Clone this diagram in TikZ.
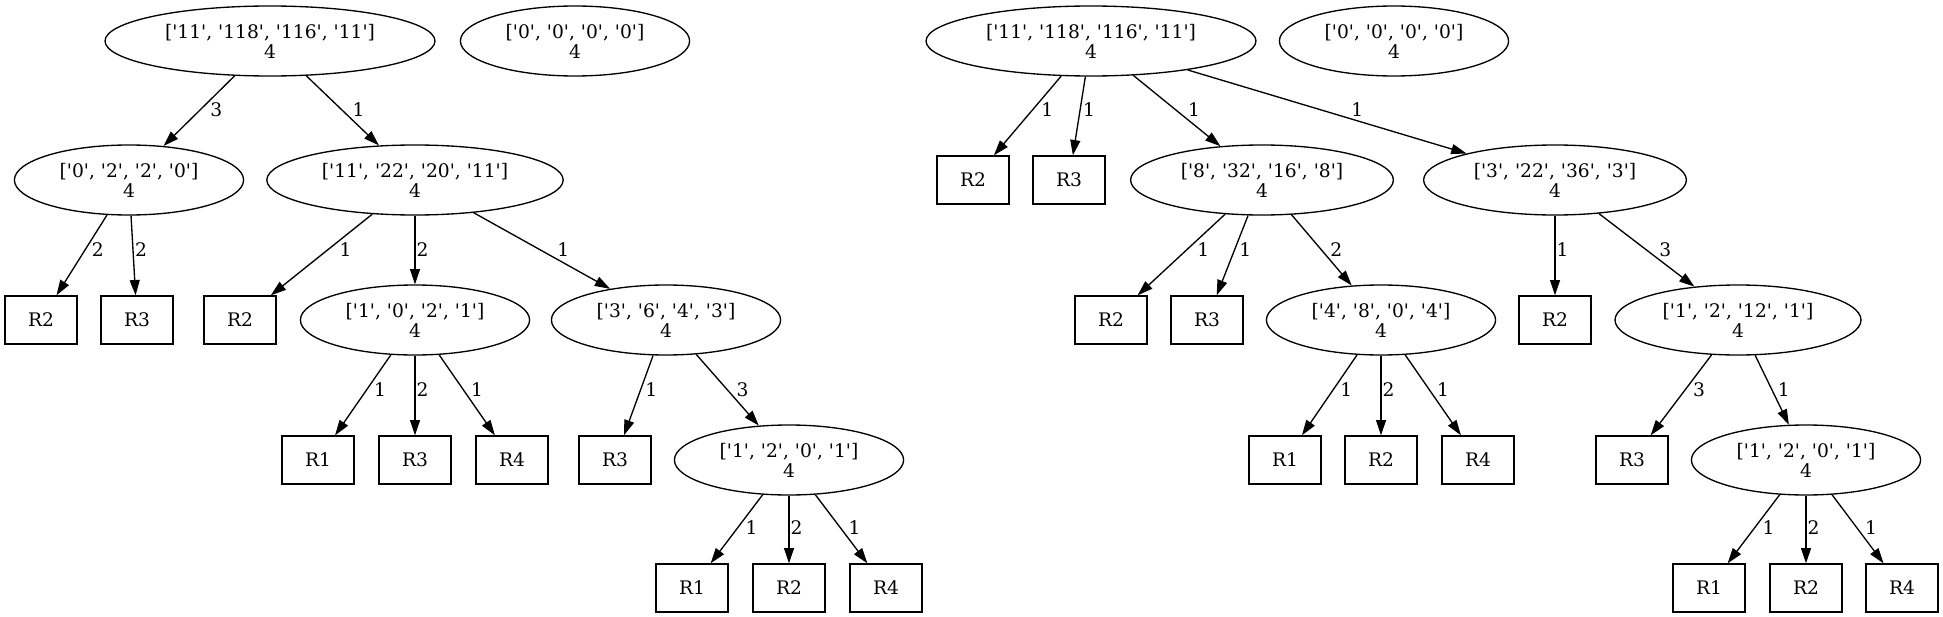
\documentclass[tikz,border=0pt]{standalone}
\usepackage{fontspec}
\setmainfont{DejaVu Serif}[Ligatures=TeXOff]
\usetikzlibrary{shapes.geometric,arrows.meta}
\tikzset{
  treenode/.style={draw, ellipse, line width=1pt, inner xsep=8.75pt, inner ysep=2pt, minimum height=52.5pt, align=center, font=\fontsize{14}{15}\selectfont},
  leafbox/.style={draw, rectangle, line width=1pt, minimum width=54pt, minimum height=36pt, inner sep=0pt, font=\fontsize{14}{15}\selectfont},
  link/.style={line width=1pt, -{Triangle[length=11.5pt,width=7.5pt]}},
  elabel/.style={anchor=west, inner sep=0pt, font=\fontsize{14}{15}\selectfont}
}
\begin{document}
\begin{tikzpicture}[x=0.75pt,y=0.75pt,yscale=-1,xscale=1]
\useasboundingbox (0,0) rectangle (1943,617);

%Shape: Ellipse [left tree]
\node[treenode] (lroot) at (270,41) {['11', '118', '116', '11']\\4};
\node[treenode] (lzero) at (575,41) {['0', '0', '0', '0']\\4};
\node[treenode] (lb) at (129,180) {['0', '2', '2', '0']\\4};
\node[treenode] (lc) at (415,180) {['11', '22', '20', '11']\\4};
\node[treenode] (ld) at (415,320) {['1', '0', '2', '1']\\4};
\node[treenode] (le) at (666,320) {['3', '6', '4', '3']\\4};
\node[treenode] (lf) at (789,460) {['1', '2', '0', '1']\\4};
%Shape: Rectangle [left tree]
\node[leafbox] (lbr2) at (41,320) {R2};
\node[leafbox] (lbr3) at (137,320) {R3};
\node[leafbox] (lcr2) at (240,320) {R2};
\node[leafbox] (ldr1) at (318,460) {R1};
\node[leafbox] (ldr3) at (415,460) {R3};
\node[leafbox] (ldr4) at (512,460) {R4};
\node[leafbox] (ler3) at (615,460) {R3};
\node[leafbox] (lfr1) at (692,588) {R1};
\node[leafbox] (lfr2) at (789,588) {R2};
\node[leafbox] (lfr4) at (886,588) {R4};

%Shape: Ellipse [right tree]
\node[treenode] (rroot) at (1091,41) {['11', '118', '116', '11']\\4};
\node[treenode] (rzero) at (1394,41) {['0', '0', '0', '0']\\4};
\node[treenode] (rg) at (1262,180) {['8', '32', '16', '8']\\4};
\node[treenode] (rh) at (1555,180) {['3', '22', '36', '3']\\4};
\node[treenode] (ri) at (1381,320) {['4', '8', '0', '4']\\4};
\node[treenode] (rj) at (1738,320) {['1', '2', '12', '1']\\4};
\node[treenode] (rk) at (1806,460) {['1', '2', '0', '1']\\4};
%Shape: Rectangle [right tree]
\node[leafbox] (rr2) at (973,180) {R2};
\node[leafbox] (rr3) at (1069,180) {R3};
\node[leafbox] (rgr2) at (1111,320) {R2};
\node[leafbox] (rgr3) at (1207,320) {R3};
\node[leafbox] (rhr2) at (1555,320) {R2};
\node[leafbox] (rir1) at (1285,460) {R1};
\node[leafbox] (rir2) at (1381,460) {R2};
\node[leafbox] (rir4) at (1478,460) {R4};
\node[leafbox] (rjr3) at (1632,460) {R3};
\node[leafbox] (rkr1) at (1709,588) {R1};
\node[leafbox] (rkr2) at (1806,588) {R2};
\node[leafbox] (rkr4) at (1902,588) {R4};

%Straight Lines [left tree]
\draw[link] (lroot) -- (lb) node[elabel] at (209.6,110) {3};
\draw[link] (lroot) -- (lc) node[elabel] at (351.9,110) {1};
\draw[link] (lb) -- (lbr2) node[elabel] at (91.3,250) {2};
\draw[link] (lb) -- (lbr3) node[elabel] at (134.5,250) {2};
\draw[link] (lc) -- (lcr2) node[elabel] at (339,250) {1};
\draw[link] (lc) -- (ld) node[elabel] at (416,250) {2};
\draw[link] (lc) -- (le) node[elabel] at (556.7,250) {1};
\draw[link] (ld) -- (ldr1) node[elabel] at (373.4,390) {1};
\draw[link] (ld) -- (ldr3) node[elabel] at (416,390) {2};
\draw[link] (ld) -- (ldr4) node[elabel] at (470.4,390) {1};
\draw[link] (le) -- (ler3) node[elabel] at (644.6,390) {1};
\draw[link] (le) -- (lf) node[elabel] at (736,390) {3};
\draw[link] (lf) -- (lfr1) node[elabel] at (744.9,528) {1};
\draw[link] (lf) -- (lfr2) node[elabel] at (790,528) {2};
\draw[link] (lf) -- (lfr4) node[elabel] at (847.9,528) {1};

%Straight Lines [right tree]
\draw[link] (rroot) -- (rr2) node[elabel] at (1040.6,110) {1};
\draw[link] (rroot) -- (rr3) node[elabel] at (1082.5,110) {1};
\draw[link] (rroot) -- (rg) node[elabel] at (1187.4,110) {1};
\draw[link] (rroot) -- (rh) node[elabel] at (1350.7,110) {1};
\draw[link] (rg) -- (rgr2) node[elabel] at (1196.7,250) {1};
\draw[link] (rg) -- (rgr3) node[elabel] at (1238.8,250) {1};
\draw[link] (rg) -- (ri) node[elabel] at (1329.7,250) {2};
\draw[link] (rh) -- (rhr2) node[elabel] at (1556,250) {1};
\draw[link] (rh) -- (rj) node[elabel] at (1658.6,250) {3};
\draw[link] (ri) -- (rir1) node[elabel] at (1339.8,390) {1};
\draw[link] (ri) -- (rir2) node[elabel] at (1382,390) {2};
\draw[link] (ri) -- (rir4) node[elabel] at (1436.4,390) {1};
\draw[link] (rj) -- (rjr3) node[elabel] at (1692.4,390) {3};
\draw[link] (rj) -- (rk) node[elabel] at (1777.1,390) {1};
\draw[link] (rk) -- (rkr1) node[elabel] at (1761.9,528) {1};
\draw[link] (rk) -- (rkr2) node[elabel] at (1807,528) {2};
\draw[link] (rk) -- (rkr4) node[elabel] at (1864.4,528) {1};

\end{tikzpicture}
\end{document}
